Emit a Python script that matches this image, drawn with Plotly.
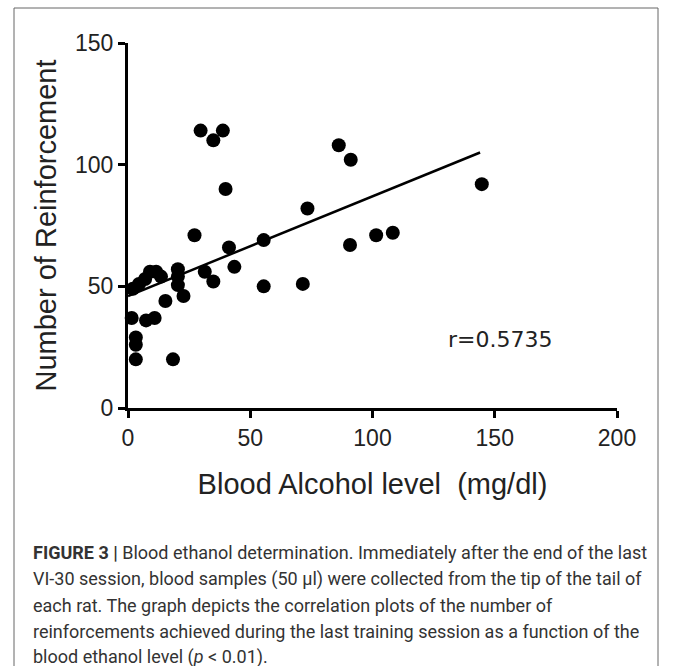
import plotly.graph_objects as go

# Data
bal_x = [29.7, 38.8, 34.9, 86.2, 91.1, 144.7, 39.9, 73.4, 27.2, 101.5, 108.3, 90.8,
         41.3, 55.5, 43.5, 31.4, 34.9, 55.5, 71.5, 20.4, 20.4, 20.4, 22.7, 15.3,
         10.9, 7.4, 1.5, 3.2, 3.2, 3.2, 18.4, 2.0, 4.5, 7.0, 9.0, 11.5, 13.5]
reinf_y = [114, 114, 110, 108, 102, 92, 90, 82, 71, 71, 72, 67,
           66, 69, 58, 56, 52, 50, 51, 57, 54, 50.5, 46, 44,
           37, 36, 37, 29, 26, 20, 20, 49, 51, 53, 56, 56, 54]
fit_x = [0, 144]
fit_y = [46, 105]
x_ticks = [0, 50, 100, 150, 200]
y_ticks = [0, 50, 100, 150]
r_label = "r=0.5735"

caption_lines = [
    "<b>FIGURE 3 |</b> Blood ethanol determination. Immediately after the end of the last",
    "VI-30 session, blood samples (50 \u03bcl) were collected from the tip of the tail of",
    "each rat. The graph depicts the correlation plots of the number of",
    "reinforcements achieved during the last training session as a function of the",
    "blood ethanol level (<i>p</i> < 0.01).",
]

W, H = 673, 666
L, R, T, B = 128, 617, 43, 408  # plot area in pixels

def px2paper_x(px):
    return (px - L) / (R - L)

def px2paper_y(py):
    return (B - py) / (B - T)

fig = go.Figure()
fig.add_trace(go.Scatter(x=fit_x, y=fit_y, mode="lines",
                         line=dict(color="black", width=2.5), showlegend=False,
                         cliponaxis=False, hoverinfo="skip"))
fig.add_trace(go.Scatter(x=bal_x, y=reinf_y, mode="markers",
                         marker=dict(color="black", size=14), showlegend=False,
                         cliponaxis=False))

axis_common = dict(showline=True, linecolor="black", linewidth=3, ticks="outside",
                   ticklen=7, tickwidth=3, tickcolor="black", showgrid=False,
                   zeroline=False, tickfont=dict(family="Liberation Sans", size=23, color="#222"))
fig.update_xaxes(range=[0, 200], tickvals=x_ticks, **axis_common,
                 title=dict(text="Blood Alcohol level  (mg/dl)", standoff=25,
                            font=dict(family="Liberation Sans", size=29, color="#222")))
fig.update_yaxes(range=[0, 150], tickvals=y_ticks, **axis_common,
                 title=dict(text="Number of Reinforcement", standoff=10,
                            font=dict(family="Liberation Sans", size=29, color="#222")))

fig.add_annotation(x=152, y=28, text=r_label, showarrow=False, xref="x", yref="y",
                   font=dict(family="DejaVu Sans", size=22, color="#222"))

line_ys = [552, 579, 605, 631, 657]
for txt, py in zip(caption_lines, line_ys):
    fig.add_annotation(x=px2paper_x(31), y=px2paper_y(py), xref="paper", yref="paper",
                       text=txt, showarrow=False, xanchor="left", yanchor="middle",
                       font=dict(family="Roboto", size=18, color="#333"))

fig.add_shape(type="rect", xref="paper", yref="paper",
              x0=px2paper_x(14), x1=px2paper_x(658), y0=px2paper_y(690), y1=px2paper_y(8),
              line=dict(color="#666", width=1))

fig.update_layout(width=W, height=H, margin=dict(l=L, r=W - R, t=T, b=H - B, pad=0),
                  paper_bgcolor="white", plot_bgcolor="white", hovermode=False)

fig.write_html("out.html", config={"displayModeBar": False},
               post_script="document.body.style.margin='0';document.body.style.overflow='hidden';")
